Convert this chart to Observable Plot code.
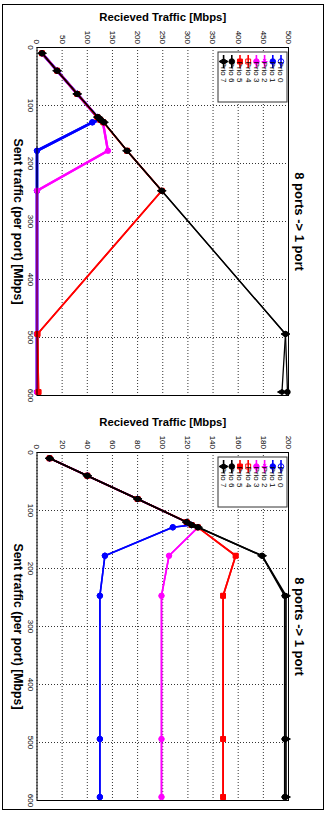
<!DOCTYPE html>
<html><head><meta charset="utf-8">
<script src="https://cdn.jsdelivr.net/npm/d3@7"></script>
<script src="https://cdn.jsdelivr.net/npm/@observablehq/plot@0.6"></script>
<style>
html,body{margin:0;padding:0;background:#fff;}
body{width:329px;height:814px;position:relative;overflow:hidden;font-family:"Liberation Sans",Arial,sans-serif;}
.panel{position:absolute;left:0;width:405px;height:329px;transform-origin:0 0;transform:translate(329px,0) rotate(90deg);}
.border{position:absolute;left:2px;top:4px;width:322px;height:806px;border:1px solid #000;box-sizing:border-box;}
</style></head><body>
<div class="border"></div>
<div id="p1" class="panel" style="top:0px"></div>
<div id="p2" class="panel" style="top:405px"></div>
<script>
const prios = ["Prio 0","Prio 1","Prio 2","Prio 3","Prio 4","Prio 5","Prio 6","Prio 7"];
const prioColors = ["#0000ff","#0000ff","#ff00ff","#ff00ff","#ff0000","#ff0000","#000000","#000000"];
const prioSymbols = ["circle","circle","asterisk","circle","square","square","circle","diamond"];
const prioFilled = [false,true,false,true,false,true,true,true];
const sentTraffic = [10, 40, 80, 120, 125, 129, 178, 247, 494, 594];
const sentTicks = [0,100,200,300,400,500,600];
const topTicks = [0,50,100,150,200,250,300,350,400,450,500];
const bottomTicks = [0,20,40,60,80,100,120,140,160,180,200];
const titleText = "8 ports -> 1 port";
const xLabel = "Sent traffic (per port) [Mbps]";
const yLabel = "Recieved Traffic [Mbps]";

// top panel received traffic per priority
const topPrio0 = [10, 40, 80, 120, 125, 110, 0, 0, 0, 0];
const topPrio1 = [10, 40, 80, 120, 125, 110, 0, 0, 0, 0];
const topPrio2 = [10, 40, 80, 120, 126, 131, 141, 0, 0, 0];
const topPrio3 = [10, 40, 80, 120, 126, 131, 141, 0, 0, 0];
const topPrio4 = [10, 40, 80, 120, 126, 132, 179, 248, 1, 3];
const topPrio5 = [10, 40, 80, 120, 126, 132, 179, 248, 1, 3];
const topPrio6 = [10, 40, 80, 121, 127, 133, 179, 248, 494, 498];
const topPrio7 = [10, 40, 80, 121, 127, 133, 179, 248, 494, 487];

// bottom panel received traffic per priority
const botPrio0 = [10, 40, 80, 119, 123, 108, 54, 50, 50, 50];
const botPrio1 = [10, 40, 80, 119, 123, 108, 54, 50, 50, 50];
const botPrio2 = [10, 40, 80, 119, 123, 128, 105, 99, 99, 99];
const botPrio3 = [10, 40, 80, 119, 123, 128, 105, 99, 99, 99];
const botPrio4 = [10, 40, 80, 119, 123, 128, 158, 148, 148, 148];
const botPrio5 = [10, 40, 80, 119, 123, 128, 158, 148, 148, 148];
const botPrio6 = [10, 40, 80, 119, 123, 128, 179, 197, 197, 197];
const botPrio7 = [10, 40, 80, 119, 123, 128, 179, 198, 198, 198];

const topSeries = [topPrio0, topPrio1, topPrio2, topPrio3, topPrio4, topPrio5, topPrio6, topPrio7];
const botSeries = [botPrio0, botPrio1, botPrio2, botPrio3, botPrio4, botPrio5, botPrio6, botPrio7];
const topWidths = [2.6, 2.6, 2.3, 2.3, 1.7, 1.7, 1.3, 1.3];
const botWidths = [1.6, 1.6, 1.6, 1.6, 1.7, 1.7, 1.6, 1.6];

const FONT = "Liberation Sans, Arial, Helvetica, sans-serif";

function makePanel(el, series, yMax, yTicks, widths) {
  const gridStyle = {stroke: "#000", strokeOpacity: 0.8, strokeDasharray: "1,2", strokeWidth: 1};
  const marks = [
    Plot.gridX(sentTicks, gridStyle),
    Plot.gridY(yTicks, gridStyle),
  ];
  prios.forEach((p, i) => {
    const rows = sentTraffic.map((s, j) => ({sent: s, recv: series[i][j], prio: p}));
    marks.push(Plot.line(rows, {x: "sent", y: "recv", stroke: prioColors[i], strokeWidth: widths[i]}));
    marks.push(Plot.dot(rows, {x: "sent", y: "recv", symbol: prioSymbols[i], r: 2.7,
      fill: prioFilled[i] ? prioColors[i] : "none", stroke: prioColors[i], strokeWidth: 1}));
  });
  marks.push(Plot.frame({stroke: "#000", strokeWidth: 1}));
  marks.push(Plot.axisX(sentTicks, {anchor: "bottom", tickSize: 0, tickPadding: 3, fontSize: 8, label: null}));
  marks.push(Plot.axisY(yTicks, {anchor: "left", tickSize: 0, tickPadding: 3.5, fontSize: 8, label: null}));
  marks.push(Plot.text([titleText], {text: d => d, frameAnchor: "top", dy: -11, lineAnchor: "middle", textAnchor: "middle", fontWeight: "bold", fontSize: 13}));
  marks.push(Plot.text([xLabel], {text: d => d, frameAnchor: "bottom", dy: 19.5, lineAnchor: "middle", textAnchor: "middle", fontWeight: "bold", fontSize: 12.3}));
  marks.push(Plot.text([yLabel], {text: d => d, frameAnchor: "left", dx: -30, rotate: -90, lineAnchor: "middle", textAnchor: "middle", fontWeight: "bold", fontSize: 11.3}));

  const svg = Plot.plot({
    width: 405, height: 329,
    marginLeft: 47, marginRight: 10, marginTop: 40, marginBottom: 37.5,
    x: {domain: [0, 600]},
    y: {domain: [0, yMax]},
    style: {fontFamily: FONT, background: "transparent", overflow: "visible", color: "#000"},
    marks
  });

  // legend (northwest in the original orientation)
  const g = d3.select(svg).append("g").attr("font-family", FONT).attr("font-size", 8);
  g.append("rect").attr("x", 52).attr("y", 42).attr("width", 50).attr("height", 69)
    .attr("fill", "#fff").attr("stroke", "#333").attr("stroke-width", 1);
  prios.forEach((p, i) => {
    const yy = 48 + i * 8.2;
    g.append("line").attr("x1", 55).attr("x2", 68).attr("y1", yy).attr("y2", yy)
      .attr("stroke", prioColors[i]).attr("stroke-width", 1.6);
    const sym = d3.symbol().type(prioSymbols[i] === "square" ? d3.symbolSquare :
      prioSymbols[i] === "diamond" ? d3.symbolDiamond :
      prioSymbols[i] === "asterisk" ? d3.symbolAsterisk : d3.symbolCircle).size(24);
    g.append("path").attr("d", sym()).attr("transform", `translate(61.5,${yy})`)
      .attr("fill", prioFilled[i] ? prioColors[i] : "none").attr("stroke", prioColors[i]);
    g.append("text").attr("x", 72).attr("y", yy).attr("dy", "0.32em").attr("fill", "#000").text(p);
  });
  el.appendChild(svg);
}

makePanel(document.getElementById("p1"), topSeries, 500, topTicks, topWidths);
makePanel(document.getElementById("p2"), botSeries, 200, bottomTicks, botWidths);
</script>
</body></html>
